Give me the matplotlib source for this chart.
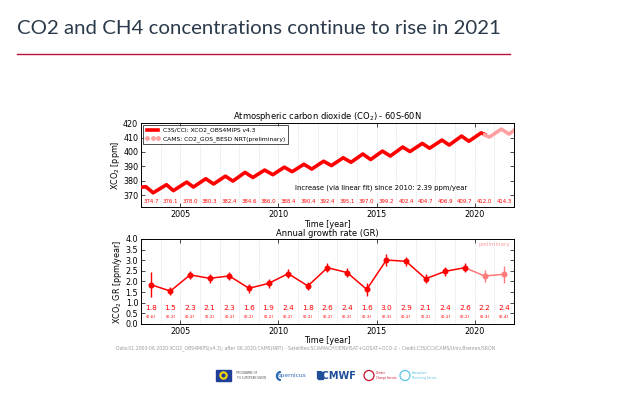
import matplotlib
matplotlib.use("Agg")
import matplotlib.pyplot as plt
from matplotlib.lines import Line2D
from matplotlib.patches import Rectangle, Circle, Wedge
import numpy as np

# XCO2 turning points (peaks / troughs), C3S/CCI part
cci_time = [2003.0, 2003.25, 2003.62, 2004.3, 2004.65, 2005.33, 2005.67,
            2006.3, 2006.7, 2007.3, 2007.68, 2008.3, 2008.7, 2009.3, 2009.72,
            2010.3, 2010.7, 2011.3, 2011.7, 2012.3, 2012.7, 2013.3, 2013.7,
            2014.3, 2014.7, 2015.3, 2015.7, 2016.33, 2016.7, 2017.33, 2017.7,
            2018.33, 2018.7, 2019.33, 2019.7, 2020.33, 2020.5]
cci_xco2 = [375.6, 376.0, 371.8, 377.4, 373.3, 379.2, 375.8,
            381.5, 377.9, 383.3, 379.9, 385.9, 382.4, 387.5, 384.3,
            389.5, 386.4, 391.5, 388.2, 393.6, 390.6, 396.0, 392.9,
            398.6, 394.8, 400.6, 397.2, 403.4, 400.3, 405.9, 402.6,
            408.2, 404.8, 411.0, 407.4, 413.2, 412.2]
# CAMS NRT (preliminary) part
cams_time = [2020.5, 2020.75, 2021.35, 2021.75, 2022.0]
cams_xco2 = [411.8, 410.3, 415.8, 412.4, 415.0]

years = list(range(2003, 2022))
annual_mean = [374.7, 376.1, 378.0, 380.3, 382.4, 384.6, 386.0, 388.4, 390.4,
               392.4, 395.1, 397.0, 399.2, 402.4, 404.7, 406.9, 409.7, 412.0,
               414.3]

# annual growth rate: plotted values, printed values, uncertainty
gr_value = [1.85, 1.55, 2.31, 2.15, 2.26, 1.68, 1.91, 2.37, 1.79, 2.65,
            2.42, 1.63, 3.01, 2.95, 2.13, 2.48, 2.65, 2.26, 2.34]
gr_label = [1.8, 1.5, 2.3, 2.1, 2.3, 1.6, 1.9, 2.4, 1.8, 2.6,
            2.4, 1.6, 3.0, 2.9, 2.1, 2.4, 2.6, 2.2, 2.4]
gr_err = [0.6, 0.2, 0.2, 0.2, 0.2, 0.2, 0.2, 0.2, 0.2, 0.2,
          0.2, 0.3, 0.3, 0.2, 0.2, 0.2, 0.2, 0.3, 0.4]
n_prelim = 2

RED = '#ff0000'
PINK = '#ffa0a0'
PINK2 = '#ff7b7b'

plt.rcParams['font.family'] = ['DejaVu Sans']
plt.rcParams['xtick.direction'] = 'in'
plt.rcParams['ytick.direction'] = 'in'

fig = plt.figure(figsize=(6.33, 3.97), dpi=100)

# page decoration layer in pixel coordinates
bg = fig.add_axes([0, 0, 1, 1])
bg.set_xlim(0, 633)
bg.set_ylim(397, 0)
bg.axis('off')
bg.text(17, 29, 'CO2 and CH4 concentrations continue to rise in 2021',
        family='Lato', fontsize=14.7, color='#2b3a4a', va='center', ha='left')
bg.plot([17, 510], [54, 54], color='#b8123a', lw=1.0)
bg.text(116, 348,
        'Data:01.2003-06.2020:XCO2_OBS4MIPS(v4.3); after 06.2020:CAMS(NRT) - '
        'Satellites:SCIAMACHY/ENVISAT+GOSAT+OCO-2 - Credit:C3S/CCI/CAMS/Univ.Bremen/SRON',
        fontsize=3.35, color='#999999', va='center', ha='left')

# logos (rough)
bg.add_patch(Rectangle((216, 370), 15, 11, color='#1f3d99'))
for k in range(12):
    a = 2 * np.pi * k / 12
    bg.add_patch(Circle((223.5 + 3.2 * np.cos(a), 375.5 + 3.2 * np.sin(a)),
                        0.45, color='#ffdd00'))
bg.text(236, 375.5, 'PROGRAMME OF\nTHE EUROPEAN UNION', fontsize=1.9,
        color='#555555', va='center', ha='left', linespacing=1.3)
bg.text(292, 376, 'opernicus', fontsize=4.2, color='#2d6bb5', va='center',
        ha='center')
bg.add_patch(Wedge((281, 376), 4.5, 100, 260, width=0.8, color='#2d6bb5'))
bg.text(336, 376, 'ECMWF', fontsize=7, weight='bold', color='#1f4e9a',
        va='center', ha='center')
bg.add_patch(Rectangle((318, 372), 4.5, 7, color='#1f4e9a'))
bg.add_patch(Circle((369, 375.5), 5, fill=False, ec='#c8102e', lw=0.9))
bg.text(376, 375.5, 'Climate\nChange Service', fontsize=1.9,
        color='#c8102e', va='center', ha='left', linespacing=1.3)
bg.add_patch(Circle((405, 375.5), 5, fill=False, ec='#5bc2e7', lw=0.9))
bg.text(412, 375.5, 'Atmosphere\nMonitoring Service', fontsize=1.9,
        color='#5bc2e7', va='center', ha='left', linespacing=1.3)

# ---------------- top panel ----------------
ax1 = fig.add_axes([0.2227, 0.4786, 0.5893, 0.2115])
ax1.plot(cci_time, cci_xco2, color=RED, lw=2.6, solid_joinstyle='round',
         zorder=3)
ax1.plot(cams_time, cams_xco2, color=PINK, lw=2.6, solid_joinstyle='round',
         zorder=3)
for yr, m in zip(years, annual_mean):
    ax1.text(yr + 0.5, 366, '%.1f' % m, fontsize=3.9, color=RED,
             ha='center', va='center')
ax1.text(2010.85, 375, 'Increase (via linear fit) since 2010: 2.39 ppm/year',
         fontsize=4.95, ha='left', va='center')
ax1.set_xlim(2003, 2022)
ax1.set_ylim(362, 420)
ax1.set_yticks([370, 380, 390, 400, 410, 420])
ax1.set_xticks([2005, 2010, 2015, 2020])
ax1.set_xticks(range(2003, 2023), minor=True)
ax1.grid(True, which='both', axis='x', color='#cccccc', ls=':', lw=0.5)
ax1.set_title('Atmospheric carbon dioxide (CO$_2$) - 60S-60N', fontsize=6.0,
              pad=2.5)
ax1.set_xlabel('Time [year]', fontsize=5.8, labelpad=1.0)
ax1.set_ylabel('XCO$_2$ [ppm]', fontsize=5.8, labelpad=1)
ax1.tick_params(which='both', labelsize=5.8, top=True, right=True, pad=2)
ax1.tick_params(which='major', length=3, width=0.5)
ax1.tick_params(which='minor', length=0)
handles = [Line2D([], [], color=RED, lw=2.6),
           Line2D([], [], color=PINK, ls='none', marker='o', markersize=2.5,
                  mec=PINK)]
leg = ax1.legend(handles, ['C3S/CCI: XCO2_OBS4MIPS v4.3',
                           'CAMS: CO2_GOS_BESD NRT(preliminary)'],
                 loc='upper left', fontsize=4.3, numpoints=3, fancybox=False,
                 borderaxespad=0.35, handlelength=2.4, borderpad=0.4,
                 labelspacing=0.45, handletextpad=0.6)
leg.get_frame().set_edgecolor('black')
leg.get_frame().set_linewidth(0.6)

# ---------------- bottom panel ----------------
ax2 = fig.add_axes([0.2227, 0.1839, 0.5893, 0.2141])
gx = [y + 0.5 for y in years]
k = len(years) - n_prelim
ax2.plot(gx[:k], gr_value[:k], color=RED, lw=1.1, zorder=3)
ax2.plot(gx[k - 1:], gr_value[k - 1:], color=PINK2, lw=1.1, zorder=3)
ax2.errorbar(gx[:k], gr_value[:k], yerr=gr_err[:k], fmt='o', color=RED,
             ms=3.3, elinewidth=1.0, capsize=0, zorder=4)
ax2.errorbar(gx[k:], gr_value[k:], yerr=gr_err[k:], fmt='o', color=PINK2,
             ms=3.3, elinewidth=1.0, capsize=0, zorder=4)
for x, v, e in zip(gx, gr_label, gr_err):
    ax2.text(x, 0.77, '%.1f' % v, fontsize=5.3, color=RED, ha='center',
             va='center')
    ax2.text(x, 0.35, '(%.1f)' % e, fontsize=3.2, color=RED, ha='center',
             va='center')
ax2.text(2021.8, 3.75, 'preliminary', fontsize=4.0, color=PINK, ha='right',
         va='center')
ax2.set_xlim(2003, 2022)
ax2.set_ylim(0, 4)
ax2.set_yticks(np.arange(0, 4.01, 0.5))
ax2.yaxis.set_major_formatter(matplotlib.ticker.FormatStrFormatter('%.1f'))
ax2.set_xticks([2005, 2010, 2015, 2020])
ax2.set_xticks(range(2003, 2023), minor=True)
ax2.grid(True, which='both', axis='x', color='#cccccc', ls=':', lw=0.5)
ax2.set_title('Annual growth rate (GR)', fontsize=6.0, pad=2.5)
ax2.set_xlabel('Time [year]', fontsize=5.8, labelpad=0.5)
ax2.set_ylabel('XCO$_2$ GR [ppm/year]', fontsize=5.8, labelpad=1)
ax2.tick_params(which='both', labelsize=5.8, top=True, right=True, pad=2)
ax2.tick_params(which='major', length=3, width=0.5)
ax2.tick_params(which='minor', length=0)

for ax in (ax1, ax2):
    for s in ax.spines.values():
        s.set_linewidth(0.7)

fig.savefig('out.png', dpi=100)
